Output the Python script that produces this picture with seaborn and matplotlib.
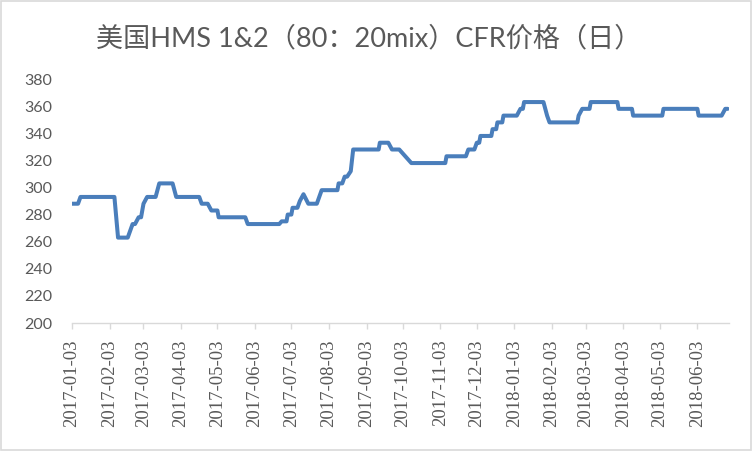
import pandas as pd
import matplotlib.pyplot as plt
import matplotlib.dates as mdates
import seaborn as sns
from matplotlib.patches import Rectangle

# ==============================
# Data
# ==============================
dates = [
    "2017-01-03", "2017-01-08", "2017-01-10", "2017-02-07", "2017-02-10",
    "2017-02-18", "2017-02-22", "2017-02-24", "2017-02-27", "2017-03-01",
    "2017-03-03", "2017-03-06", "2017-03-13", "2017-03-16", "2017-03-27",
    "2017-03-30", "2017-04-18", "2017-04-20", "2017-04-25", "2017-04-28",
    "2017-05-03", "2017-05-04", "2017-05-26", "2017-05-28", "2017-06-23",
    "2017-06-25", "2017-06-29", "2017-06-30", "2017-07-03", "2017-07-04",
    "2017-07-08", "2017-07-10", "2017-07-13", "2017-07-17", "2017-07-24",
    "2017-07-26", "2017-07-28", "2017-08-10", "2017-08-11", "2017-08-14",
    "2017-08-16", "2017-08-18", "2017-08-21", "2017-08-23", "2017-09-13",
    "2017-09-14", "2017-09-21", "2017-09-24", "2017-09-30", "2017-10-10",
    "2017-11-07", "2017-11-08", "2017-11-24", "2017-11-26", "2017-12-01",
    "2017-12-03", "2017-12-05", "2017-12-06", "2017-12-15", "2017-12-16",
    "2017-12-19", "2017-12-20", "2017-12-24", "2017-12-25", "2018-01-05",
    "2018-01-08", "2018-01-10", "2018-01-11", "2018-01-27", "2018-01-30",
    "2018-02-01", "2018-02-24", "2018-02-25", "2018-02-28", "2018-03-06",
    "2018-03-07", "2018-03-29", "2018-03-30", "2018-04-10", "2018-04-11",
    "2018-05-05", "2018-05-06", "2018-06-03", "2018-06-04", "2018-06-23",
    "2018-06-26", "2018-06-28",
]
prices = [
    288, 288, 293, 293, 263,
    263, 273, 273, 278, 278,
    288, 293, 293, 303, 303,
    293, 293, 288, 288, 283,
    283, 278, 278, 273, 273,
    275, 275, 280, 280, 285,
    285, 290, 295, 288, 288,
    293, 298, 298, 303, 303,
    308, 308, 312, 328, 328,
    333, 333, 328, 328, 318,
    318, 323, 323, 328, 328,
    333, 333, 338, 338, 343,
    343, 348, 348, 353, 353,
    358, 358, 363, 363, 353,
    348, 348, 353, 358, 358,
    363, 363, 358, 358, 353,
    353, 358, 358, 353, 353,
    358, 358,
]

tick_dates = [
    "2017-01-03", "2017-02-03", "2017-03-03", "2017-04-03", "2017-05-03",
    "2017-06-03", "2017-07-03", "2017-08-03", "2017-09-03", "2017-10-03",
    "2017-11-03", "2017-12-03", "2018-01-03", "2018-02-03", "2018-03-03",
    "2018-04-03", "2018-05-03", "2018-06-03",
]
y_ticks = [200, 220, 240, 260, 280, 300, 320, 340, 360, 380]

title = "美国HMS 1&2（80：20mix）CFR价格（日）"

df = pd.DataFrame({"date": pd.to_datetime(dates), "price": prices})

# ==============================
# Plot
# ==============================
sns.set_theme(style="white")
plt.rcParams["font.family"] = ["Liberation Serif", "DejaVu Serif"]

fig = plt.figure(figsize=(7.53, 4.51), dpi=100)
ax = fig.add_axes([0.0956, 0.2838, 0.8724, 0.541])

sns.lineplot(data=df, x="date", y="price", ax=ax, color="#4a7ebb", linewidth=2.9)

ax.set_ylim(200, 380)
ax.set_xlim(pd.Timestamp("2017-01-03"), pd.Timestamp("2018-06-29"))
ax.set_yticks(y_ticks)
ax.set_xticks(pd.to_datetime(tick_dates))
ax.xaxis.set_major_formatter(mdates.DateFormatter("%Y-%m-%d"))
ax.set_xlabel("")
ax.set_ylabel("")

for side in ["top", "right", "left"]:
    ax.spines[side].set_visible(False)
ax.spines["bottom"].set_color("#d9d9d9")
ax.spines["bottom"].set_linewidth(1.0)

ax.tick_params(axis="y", length=0, pad=14, labelsize=11.5, labelcolor="#595959")
ax.tick_params(axis="x", bottom=True, length=4, width=1, color="#d9d9d9",
               pad=8, labelsize=13.5, labelcolor="#595959", rotation=90)
for lab in ax.get_yticklabels():
    lab.set_family(["Lato", "DejaVu Sans"])

fig.text(0.49, 0.914, title, ha="center", va="center", fontsize=19.5,
         color="#595959", family=["Lato", "Noto Sans CJK SC"])

# chart border
fig.patches.append(Rectangle((0.001, 0.002), 0.996, 0.995, transform=fig.transFigure,
                             fill=False, edgecolor="#d9d9d9", linewidth=1.2))

fig.savefig("out.png", dpi=100)
